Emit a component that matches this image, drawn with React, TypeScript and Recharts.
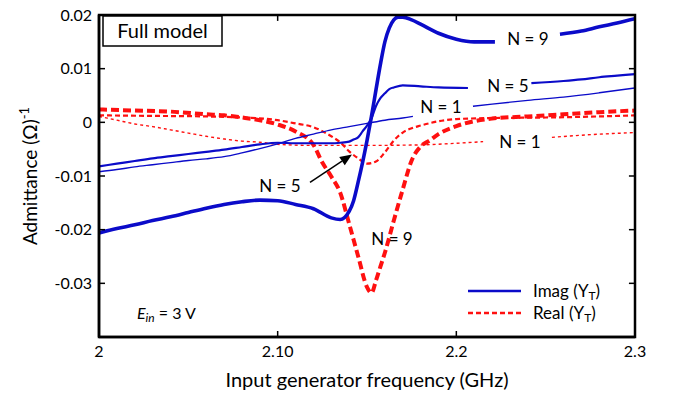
import {
  LineChart,
  Line,
  XAxis,
  YAxis,
  Label,
  ReferenceDot,
  ReferenceLine,
} from "recharts";

const freqTicks = [2, 2.1, 2.2, 2.3];
const innerFreqTicks = [2.1, 2.2];
const innerAdmTicks = [-0.03, -0.02, -0.01, 0, 0.01];
const admTicks = [-0.04, -0.03, -0.02, -0.01, 0, 0.01, 0.02];

// [frequency (GHz), admittance]; null leaves a gap where the curve label sits
const imagN9 = [
  [2.0, -0.0206], [2.01, -0.0198], [2.02, -0.0191], [2.03, -0.0183], [2.04, -0.0176],
  [2.05, -0.0168], [2.06, -0.016], [2.07, -0.0153], [2.08, -0.0148], [2.09, -0.0145],
  [2.1, -0.0146], [2.11, -0.0153], [2.12, -0.0161], [2.13, -0.0178], [2.135, -0.0181],
  [2.14, -0.0166], [2.1425, -0.0146], [2.145, -0.0112], [2.1475, -0.0075], [2.15, -0.0034],
  [2.1525, 0.0011], [2.155, 0.006], [2.1575, 0.0108], [2.16, 0.015], [2.1625, 0.0176],
  [2.165, 0.0191], [2.1675, 0.0196], [2.17, 0.0196], [2.175, 0.0191], [2.18, 0.0183],
  [2.19, 0.0166], [2.2, 0.0155], [2.21, 0.015], [2.2216, 0.015], [2.24, null],
  [2.258, 0.0164], [2.27, 0.017], [2.28, 0.0178], [2.29, 0.0185], [2.3, 0.0193],
];

const imagN5 = [
  [2.0, -0.0082], [2.01, -0.0077], [2.02, -0.0072], [2.03, -0.0067], [2.04, -0.0063],
  [2.05, -0.0059], [2.06, -0.0055], [2.07, -0.0051], [2.08, -0.0046], [2.09, -0.0041],
  [2.1, -0.0038], [2.11, -0.0039], [2.12, -0.0039], [2.13, -0.0039], [2.135, -0.0038],
  [2.14, -0.0036], [2.1425, -0.0032], [2.145, -0.0028], [2.1475, -0.0017], [2.15, -0.0006],
  [2.1525, 0.0007], [2.155, 0.003], [2.1575, 0.0045], [2.16, 0.0054], [2.1625, 0.0062],
  [2.165, 0.0065], [2.17, 0.0069], [2.18, 0.0067], [2.19, 0.0065], [2.2065, 0.0064],
  [2.225, null], [2.242, 0.0073], [2.26, 0.0077], [2.27, 0.008], [2.28, 0.0084],
  [2.29, 0.0087], [2.3, 0.009],
];

const imagN1 = [
  [2.0, -0.0092], [2.01, -0.0088], [2.02, -0.0083], [2.03, -0.0079], [2.04, -0.0075],
  [2.05, -0.0071], [2.06, -0.0068], [2.07, -0.0064], [2.08, -0.0057], [2.09, -0.0049],
  [2.1, -0.004], [2.11, -0.003], [2.12, -0.0022], [2.13, -0.0014], [2.14, -0.0008],
  [2.15, -0.0002], [2.16, 0.0004], [2.17, 0.0008], [2.1757, 0.0011], [2.19, null],
  [2.2093, 0.003], [2.22, 0.0034], [2.24, 0.0041], [2.26, 0.0047], [2.28, 0.0055],
  [2.3, 0.0064],
];

const realN9 = [
  [2.0, 0.0024], [2.02, 0.0022], [2.04, 0.002], [2.06, 0.0015], [2.07, 0.0013],
  [2.08, 0.0009], [2.09, 0.0004], [2.1, -0.0004], [2.11, -0.0017], [2.12, -0.0042],
  [2.125, -0.0075], [2.13, -0.0101], [2.135, -0.0131], [2.14, -0.0189], [2.145, -0.0249],
  [2.15, -0.0307], [2.1525, -0.0318], [2.155, -0.0295], [2.1575, -0.0269], [2.16, -0.0243],
  [2.165, -0.0183], [2.17, -0.0125], [2.175, -0.0071], [2.18, -0.0045], [2.185, -0.0034],
  [2.19, -0.0022], [2.2, -0.0007], [2.21, 0.0002], [2.22, 0.0007], [2.24, 0.0011],
  [2.26, 0.0015], [2.28, 0.0019], [2.3, 0.0022],
];

const realN5 = [
  [2.0, 0.0013], [2.03, 0.0012], [2.06, 0.0011], [2.08, 0.0009], [2.1, 0.0004],
  [2.11, -0.0002], [2.12, -0.0009], [2.13, -0.0026], [2.135, -0.0037], [2.14, -0.0054],
  [2.145, -0.0067], [2.15, -0.0077], [2.155, -0.0073], [2.16, -0.0056], [2.165, -0.0034],
  [2.17, -0.0019], [2.175, -0.0011], [2.18, -0.0006], [2.19, 0.0002], [2.2, 0.0006],
  [2.22, 0.0008], [2.25, 0.0009], [2.28, 0.0011], [2.3, 0.0013],
];

const realN1 = [
  [2.0, 0.0011], [2.01, 0.0004], [2.02, -0.0003], [2.03, -0.0008], [2.04, -0.0014],
  [2.05, -0.002], [2.06, -0.0026], [2.07, -0.0031], [2.08, -0.0035], [2.09, -0.0037],
  [2.1, -0.0041], [2.12, -0.0043], [2.15, -0.0043], [2.18, -0.0042], [2.2, -0.0039],
  [2.215, -0.0036], [2.235, null], [2.2535, -0.0028], [2.27, -0.0024], [2.3, -0.0019],
];

const rows = (pts) => pts.map(([f, v]) => ({ f, v }));

const BLUE = "#0b0bc9";
const RED = "#ff1010";
const FONT = "Lato, 'Open Sans', sans-serif";

const tag = (text) => (p) => (
  <text x={p.cx} y={p.cy} textAnchor="middle" dominantBaseline="central" fontSize={17} fill="#000">
    {text}
  </text>
);

const Arrow = (p) => {
  const { x1, y1, x2, y2 } = p;
  const a = Math.atan2(y2 - y1, x2 - x1);
  const L = 12;
  const W = 5;
  const bx = x2 - L * Math.cos(a);
  const by = y2 - L * Math.sin(a);
  const pts = `${x2},${y2} ${bx - W * Math.sin(a)},${by + W * Math.cos(a)} ${bx + W * Math.sin(a)},${by - W * Math.cos(a)}`;
  return (
    <g>
      <line x1={x1} y1={y1} x2={bx} y2={by} stroke="#000" strokeWidth={1.5} />
      <polygon points={pts} fill="#000" />
    </g>
  );
};

const Stub = (p) => <line x1={p.x1} y1={p.y1} x2={p.x2} y2={p.y2} stroke="#000" strokeWidth={1.5} />;

const frame = { stroke: "#000", strokeWidth: 2.5 };
const tickMark = { stroke: "#000", strokeWidth: 1.5 };

export default function App() {
  return (
    <div style={{ position: "absolute", left: 0, top: 0, fontFamily: FONT }}>
      <LineChart width={681} height={394} margin={{ top: 15, right: 46, bottom: 0, left: 0 }}>
        <XAxis
          dataKey="f"
          type="number"
          domain={[2, 2.3]}
          ticks={freqTicks}
          allowDataOverflow
          height={57}
          axisLine={frame}
          tickLine={tickMark}
          tickSize={-6}
          tickMargin={15}
          tick={{ fontSize: 16, fill: "#000" }}
          tickFormatter={(v) => (v === 2.1 ? "2.10" : String(v))}
        >
          <Label
            content={({ viewBox }) => (
              <text x={viewBox.x + viewBox.width / 2} y={viewBox.y + 50} textAnchor="middle" fontSize={20} fill="#000">
                Input generator frequency (GHz)
              </text>
            )}
          />
        </XAxis>
        <YAxis
          type="number"
          domain={[-0.04, 0.02]}
          ticks={admTicks}
          allowDataOverflow
          width={99}
          axisLine={frame}
          tickLine={tickMark}
          tickSize={-6}
          tickMargin={13}
          tick={{ fontSize: 16, fill: "#000" }}
          tickFormatter={(v) => (v === -0.04 ? "" : String(v))}
        >
          <Label
            content={({ viewBox }) => {
              const cx = viewBox.x + 37;
              const cy = viewBox.y + viewBox.height / 2;
              return (
                <text x={cx} y={cy} transform={`rotate(-90, ${cx}, ${cy})`} textAnchor="middle" fontSize={19} fill="#000">
                  Admittance (Ω)<tspan fontSize={13} dy={-8}>-1</tspan>
                </text>
              );
            }}
          />
        </YAxis>

        {/* inward ticks on the top and right edges of the box */}
        {innerFreqTicks.map((f) => (
          <ReferenceLine key={`t${f}`} segment={[{ x: f, y: 0.02 }, { x: f, y: 0.0189 }]} shape={Stub} ifOverflow="visible" />
        ))}
        {innerAdmTicks.map((v) => (
          <ReferenceLine key={`r${v}`} segment={[{ x: 2.3, y: v }, { x: 2.2966, y: v }]} shape={Stub} ifOverflow="visible" />
        ))}

        <Line data={rows(realN1)} dataKey="v" type="monotone" stroke={RED} strokeWidth={1.4} strokeDasharray="3 3" dot={false} isAnimationActive={false} />
        <Line data={rows(realN5)} dataKey="v" type="monotone" stroke={RED} strokeWidth={2.2} strokeDasharray="5 3" dot={false} isAnimationActive={false} />
        <Line data={rows(realN9)} dataKey="v" type="monotone" stroke={RED} strokeWidth={4} strokeDasharray="8 4" dot={false} isAnimationActive={false} />
        <Line data={rows(imagN1)} dataKey="v" type="monotone" stroke={BLUE} strokeWidth={1.4} dot={false} isAnimationActive={false} />
        <Line data={rows(imagN5)} dataKey="v" type="monotone" stroke={BLUE} strokeWidth={2.2} dot={false} isAnimationActive={false} />
        <Line data={rows(imagN9)} dataKey="v" type="monotone" stroke={BLUE} strokeWidth={3.6} dot={false} isAnimationActive={false} />

        <ReferenceDot x={2.2401} y={0.0157} r={0} shape={tag("N = 9")} />
        <ReferenceDot x={2.2289} y={0.0069} r={0} shape={tag("N = 5")} />
        <ReferenceDot x={2.1914} y={0.003} r={0} shape={tag("N = 1")} />
        <ReferenceDot x={2.2356} y={-0.0036} r={0} shape={tag("N = 1")} />
        <ReferenceDot x={2.1013} y={-0.0118} r={0} shape={tag("N = 5")} />
        <ReferenceDot x={2.164} y={-0.0217} r={0} shape={tag("N = 9")} />
        <ReferenceLine
          segment={[{ x: 2.1181, y: -0.0112 }, { x: 2.1416, y: -0.006 }]}
          shape={Arrow}
        />
      </LineChart>
      <svg width={681} height={394} style={{ position: "absolute", left: 0, top: 0, pointerEvents: "none" }}>
        <rect x={99} y={15} width={536} height={322} fill="none" stroke="#000" strokeWidth={2.5} />
        <rect x={103} y={16} width={119} height={30} fill="#fff" stroke="#000" strokeWidth={1.5} />
        <text x={162.5} y={38} textAnchor="middle" fontSize={20} fill="#000">Full model</text>
        <text x={137} y={319} fontSize={16} fill="#000">
          <tspan fontStyle="italic">E</tspan>
          <tspan fontStyle="italic" fontSize={12} dy={3}>in</tspan>
          <tspan dy={-3}> = 3 V</tspan>
        </text>
        <line x1={468} y1={291} x2={521} y2={291} stroke={BLUE} strokeWidth={2.5} />
        <line x1={468} y1={313} x2={521} y2={313} stroke={RED} strokeWidth={2.5} strokeDasharray="5 3" />
        <text x={533} y={297} fontSize={17} fill="#000">
          Imag (Y<tspan fontSize={12} dy={3}>T</tspan><tspan dy={-3}>)</tspan>
        </text>
        <text x={533} y={319} fontSize={17} fill="#000">
          Real (Y<tspan fontSize={12} dy={3}>T</tspan><tspan dy={-3}>)</tspan>
        </text>
      </svg>
    </div>
  );
}
